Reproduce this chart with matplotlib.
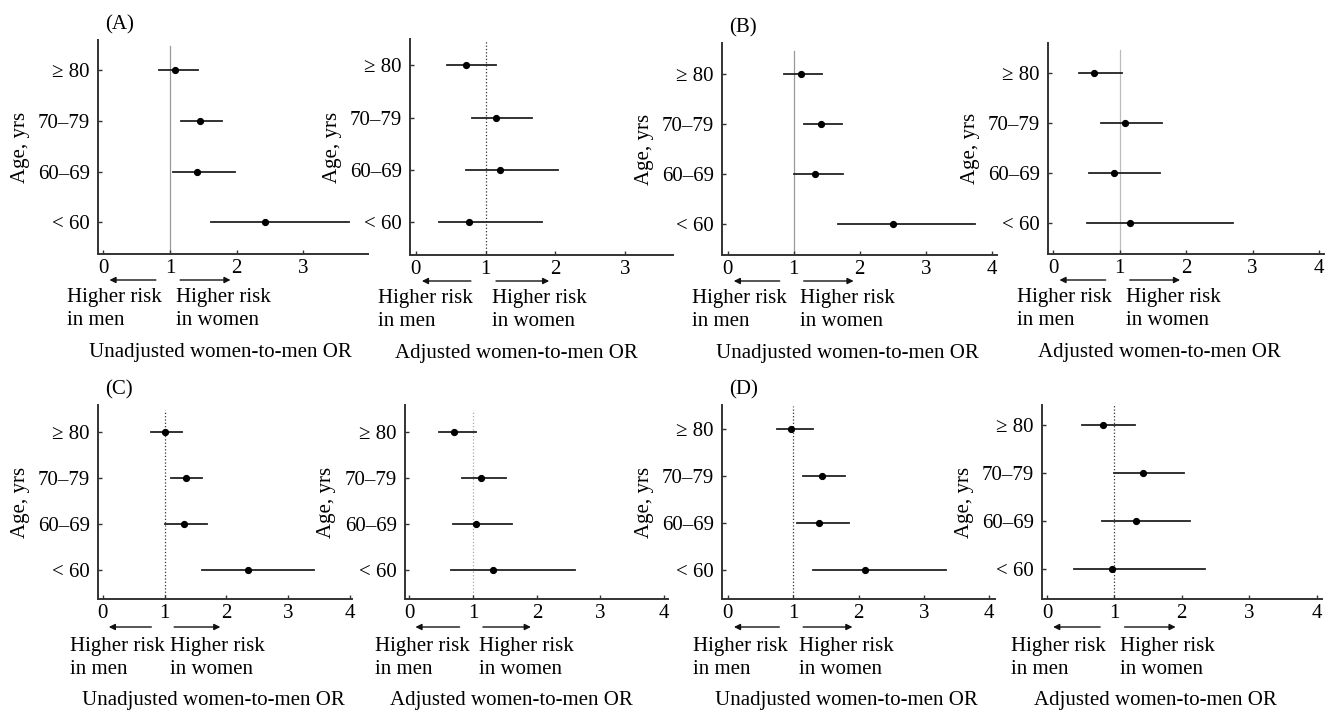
import matplotlib
matplotlib.use("Agg")
import matplotlib.pyplot as plt
from matplotlib.transforms import offset_copy

plt.rcParams['font.family'] = ['Liberation Serif', 'DejaVu Serif']
plt.rcParams['font.size'] = 15

# age groups, bottom to top
age_groups = ['< 60', '60–69', '70–79', '≥ 80']

# odds ratios with 95% CI, same order as age_groups
A_unadj_or = [2.43, 1.40, 1.45, 1.08]
A_unadj_lo = [1.61, 1.05, 1.16, 0.84]
A_unadj_hi = [3.69, 1.98, 1.78, 1.42]

A_adj_or = [0.77, 1.21, 1.15, 0.72]
A_adj_lo = [0.33, 0.72, 0.80, 0.45]
A_adj_hi = [1.81, 2.04, 1.67, 1.15]

B_unadj_or = [2.51, 1.32, 1.41, 1.11]
B_unadj_lo = [1.67, 1.00, 1.15, 0.86]
B_unadj_hi = [3.75, 1.75, 1.73, 1.43]

B_adj_or = [1.15, 0.92, 1.08, 0.62]
B_adj_lo = [0.50, 0.54, 0.72, 0.38]
B_adj_hi = [2.71, 1.61, 1.64, 1.03]

C_unadj_or = [2.35, 1.31, 1.34, 1.00]
C_unadj_lo = [1.61, 1.00, 1.10, 0.78]
C_unadj_hi = [3.43, 1.69, 1.60, 1.29]

C_adj_or = [1.31, 1.05, 1.13, 0.70]
C_adj_lo = [0.66, 0.68, 0.83, 0.47]
C_adj_hi = [2.60, 1.61, 1.52, 1.04]

D_unadj_or = [2.10, 1.40, 1.44, 0.96]
D_unadj_lo = [1.31, 1.06, 1.15, 0.75]
D_unadj_hi = [3.34, 1.86, 1.79, 1.30]

D_adj_or = [0.97, 1.32, 1.43, 0.83]
D_adj_lo = [0.40, 0.82, 1.00, 0.52]
D_adj_hi = [2.35, 2.12, 2.04, 1.30]

panel_letters = ['(A)', None, '(B)', None, '(C)', None, '(D)', None]
xlabels = ['Unadjusted women-to-men OR', 'Adjusted women-to-men OR'] * 4

W, H = 1336, 711

panels = [
    # data, axes rect in px (left, top, right, bottom), xlim, ytop, ref line style
    ((A_unadj_or, A_unadj_lo, A_unadj_hi), (98, 40, 368, 254), (-0.08, 3.97), 3.59, ('-', '#999999')),
    ((A_adj_or, A_adj_lo, A_adj_hi), (410, 39, 673, 255), (-0.08, 3.68), 3.50, (':', '#333333')),
    ((B_unadj_or, B_unadj_lo, B_unadj_hi), (722, 43, 997, 255), (-0.086, 4.08), 3.62, ('-', '#999999')),
    ((B_adj_or, B_adj_lo, B_adj_hi), (1048, 43, 1324, 254), (-0.08, 4.075), 3.60, ('-', '#bbbbbb')),
    ((C_unadj_or, C_unadj_lo, C_unadj_hi), (98, 405, 352, 599), (-0.08, 4.04), 3.58, (':', '#333333')),
    ((C_adj_or, C_adj_lo, C_adj_hi), (405, 405, 668, 599), (-0.07, 4.06), 3.58, (':', '#aaaaaa')),
    ((D_unadj_or, D_unadj_lo, D_unadj_hi), (722, 405, 995, 599), (-0.09, 4.09), 3.50, (':', '#333333')),
    ((D_adj_or, D_adj_lo, D_adj_hi), (1042, 405, 1322, 599), (-0.074, 4.08), 3.42, (':', '#333333')),
]

fig = plt.figure(figsize=(W / 100, H / 100), dpi=100)

for i, (data, rect, xlim, ytop, ref) in enumerate(panels):
    l, t, r, b = rect
    ax = fig.add_axes([l / W, 1 - b / H, (r - l) / W, (b - t) / H])
    ors, los, his = data
    ypos = list(range(len(age_groups)))
    ymin = -0.62
    row2 = i >= 4

    # reference line at OR = 1
    ax.plot([1, 1], [ymin, min(3.47, ytop)], linestyle=ref[0], color=ref[1], lw=0.9, zorder=1)

    for y, o, lo, hi in zip(ypos, ors, los, his):
        ax.plot([lo, hi], [y, y], color='#222222', lw=1.3, zorder=2)
    ax.plot(ors, ypos, 'o', color='black', markersize=4.2, zorder=3)

    ax.set_xlim(*xlim)
    ax.set_ylim(ymin, ytop)
    ax.set_xticks([x for x in range(5) if x <= xlim[1]])
    ax.set_yticks(ypos)
    ax.set_yticklabels(age_groups)
    for s in ['top', 'right']:
        ax.spines[s].set_visible(False)
    for s in ['left', 'bottom']:
        ax.spines[s].set_linewidth(1.4)
        ax.spines[s].set_color('#333333')
    ax.tick_params(axis='both', direction='in', length=3, width=1, color='#333333', labelsize=15)
    ax.tick_params(axis='y', pad=6)
    ax.tick_params(axis='x', pad=3.5)

    xtr = ax.get_xaxis_transform()
    arr_tr = offset_copy(xtr, fig=fig, y=-28 if row2 else -26, units='dots')
    ax.annotate('', xy=(0.05, 0), xytext=(0.83, 0), xycoords=arr_tr, textcoords=arr_tr,
                arrowprops=dict(arrowstyle='-|>', lw=1.0, color='#111111', mutation_scale=9),
                annotation_clip=False)
    ax.annotate('', xy=(1.95, 0), xytext=(1.11, 0), xycoords=arr_tr, textcoords=arr_tr,
                arrowprops=dict(arrowstyle='-|>', lw=1.0, color='#111111', mutation_scale=9),
                annotation_clip=False)
    txt_tr = offset_copy(xtr, fig=fig, y=-38 if row2 else -34, units='dots')
    ax.text(-0.54, 0, 'Higher risk\nin men', transform=txt_tr, ha='left', va='top',
            linespacing=1.32, fontsize=15, clip_on=False)
    ax.text(1.09, 0, 'Higher risk\nin women', transform=txt_tr, ha='left', va='top',
            linespacing=1.32, fontsize=15, clip_on=False)

    # x label, shifted left of the axes centre as in the source
    xfrac = 0.455 if i % 2 == 0 else 0.405
    lab_tr = offset_copy(ax.transAxes, fig=fig, y=-101 if row2 else -98, units='dots')
    ax.text(xfrac, 0, xlabels[i], transform=lab_tr, ha='center', va='center', fontsize=15)

    ylab_tr = offset_copy(ax.transAxes, fig=fig, x=-78, units='dots')
    ax.text(0, 0.5, 'Age, yrs', transform=ylab_tr, rotation=90, ha='center', va='center', fontsize=15)

    if panel_letters[i]:
        let_tr = offset_copy(ax.transAxes, fig=fig, x=7, y=15, units='dots')
        ax.text(0, 1, panel_letters[i], transform=let_tr, ha='left', va='center', fontsize=15)

fig.savefig('out.png', dpi=100)
